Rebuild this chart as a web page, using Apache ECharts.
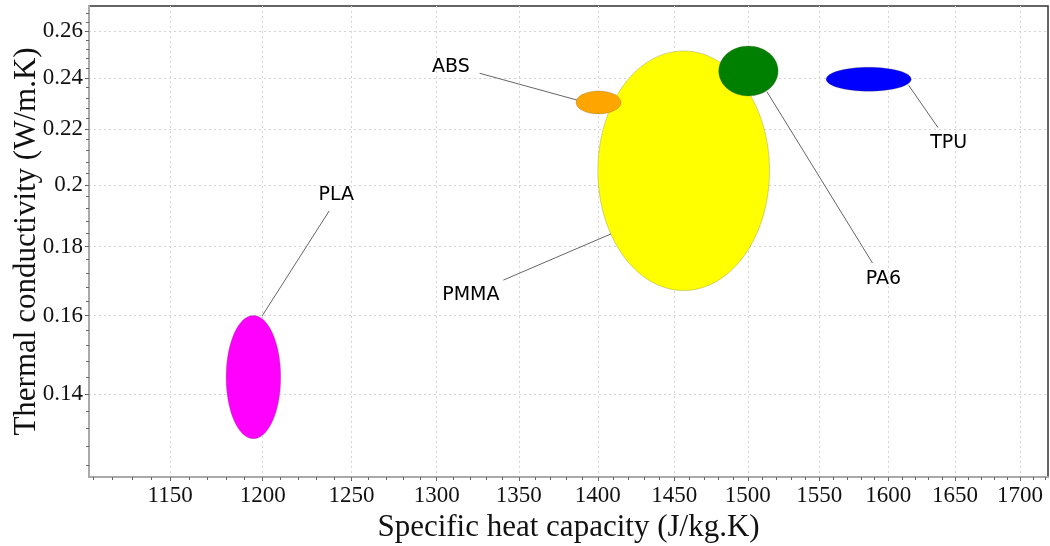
<!DOCTYPE html>
<html>
<head>
<meta charset="utf-8">
<script src="https://cdn.jsdelivr.net/npm/echarts@6/dist/echarts.min.js"></script>
<style>html,body{margin:0;padding:0;background:#fff;}#chart{width:1050px;height:546px;}</style>
</head>
<body>
<div id="chart"></div>
<script>
// ---- data ----
const materials = ['PMMA', 'PLA', 'ABS', 'PA6', 'TPU'];
const colors    = ['#ffff00', '#ff00ff', '#ffa500', '#008000', '#0000ff'];
// specific heat capacity range (J/kg.K)
const cpMin = [1400, 1180, 1386, 1480, 1555];
const cpMax = [1515, 1210, 1415, 1521, 1617];
// thermal conductivity range (W/m.K)
const kMin  = [0.167, 0.1297, 0.2257, 0.2327, 0.2346];
const kMax  = [0.2513, 0.160, 0.2347, 0.2534, 0.2444];
// annotation: label position and leader line (data units)
const labelCp   = [1320.6, 1241.3, 1308.5, 1596.5, 1645.1];
const labelK    = [0.1656, 0.1966, 0.2443, 0.1702, 0.2147];
const leadFromCp = [1408.4, 1199.7, 1386.6, 1513.2, 1615.1];
const leadFromK  = [0.1839, 0.1599, 0.2311, 0.2344, 0.2370];
const leadToCp   = [1340.5, 1237.3, 1325.9, 1588.5, 1637.0];
const leadToK    = [0.1700, 0.1913, 0.2419, 0.1750, 0.2205];
// axes
const xTicks = [1150, 1200, 1250, 1300, 1350, 1400, 1450, 1500, 1550, 1600, 1650, 1700];
const yTicks = [0.14, 0.16, 0.18, 0.2, 0.22, 0.24, 0.26];
const xRange = [1107.9, 1722];
const yRange = [0.1215, 0.2713];
const xMinorStep = 10, yMinorStep = 0.004;

// ---- build ----
const L = Math.log;
const xMinor = [], yMinor = [];
for (let v = 1110; v <= 1720; v += xMinorStep) xMinor.push(L(v));
for (let i = 0; ; i++) { const v = 0.124 + i * yMinorStep; if (v > 0.27) break; yMinor.push(L(v)); }

const seriesData = materials.map((m, i) => [
  L(cpMin[i]), L(cpMax[i]), L(kMin[i]), L(kMax[i]),
  L(labelCp[i]), L(labelK[i]), L(leadFromCp[i]), L(leadFromK[i]), L(leadToCp[i]), L(leadToK[i]), i
]);

const serif = '"Liberation Serif", "Times New Roman", serif';
const chart = echarts.init(document.getElementById('chart'), null, {renderer: 'canvas'});

const xLabelFmt = v => String(Math.round(Math.exp(v)));
const yLabelFmt = v => String(Math.round(Math.exp(v) * 100) / 100);

chart.setOption({
  animation: false,
  backgroundColor: '#fff',
  grid: { left: 89, top: 6, right: 2, bottom: 69, containLabel: false, outerBoundsMode: 'none',
          show: true, borderColor: '#333', borderWidth: 1.5, backgroundColor: 'transparent' },
  xAxis: [{
    type: 'value', min: L(xRange[0]), max: L(xRange[1]), position: 'bottom',
    name: 'Specific heat capacity (J/kg.K)', nameLocation: 'middle', nameGap: 32,
    nameTextStyle: { fontFamily: serif, fontSize: 31, color: '#111' },
    axisLine: { show: true, lineStyle: { color: '#aaa', width: 2 } },
    axisTick: { show: true, customValues: xTicks.map(L), length: 4, lineStyle: { color: '#555' } },
    axisLabel: { show: true, customValues: xTicks.map(L), formatter: xLabelFmt, fontFamily: serif, fontSize: 23, color: '#111', margin: 7 },
    splitLine: { show: true, lineStyle: { color: '#d4d4d4', type: [2, 3], width: 1 } }
  }, {
    type: 'value', min: L(xRange[0]), max: L(xRange[1]), position: 'bottom',
    axisLine: { show: false },
    axisTick: { show: true, customValues: xMinor, length: 3, lineStyle: { color: '#666' } },
    axisLabel: { show: false }, splitLine: { show: false }
  }],
  yAxis: [{
    type: 'value', min: L(yRange[0]), max: L(yRange[1]), position: 'left',
    name: 'Thermal conductivity (W/m.K)', nameLocation: 'middle', nameGap: 47, nameMoveOverlap: false,
    nameTextStyle: { fontFamily: serif, fontSize: 31, color: '#111' },
    axisLine: { show: true, lineStyle: { color: '#aaa', width: 2 } },
    axisTick: { show: true, customValues: yTicks.map(L), length: 4, lineStyle: { color: '#555' } },
    axisLabel: { show: true, customValues: yTicks.map(L), formatter: yLabelFmt, fontFamily: serif, fontSize: 23, color: '#111', margin: 6 },
    splitLine: { show: true, lineStyle: { color: '#d4d4d4', type: [2, 3], width: 1 } }
  }, {
    type: 'value', min: L(yRange[0]), max: L(yRange[1]), position: 'left',
    axisLine: { show: false },
    axisTick: { show: true, customValues: yMinor, length: 3, lineStyle: { color: '#666' } },
    axisLabel: { show: false }, splitLine: { show: false }
  }],
  series: [{
    type: 'custom',
    xAxisIndex: 0, yAxisIndex: 0,
    silent: true,
    clip: false,
    encode: { x: [0, 1], y: [2, 3] },
    data: seriesData,
    renderItem: function (params, api) {
      const p1 = api.coord([api.value(0), api.value(2)]);
      const p2 = api.coord([api.value(1), api.value(3)]);
      const lab = api.coord([api.value(4), api.value(5)]);
      const a = api.coord([api.value(6), api.value(7)]);
      const b = api.coord([api.value(8), api.value(9)]);
      const i = api.value(10);
      return {
        type: 'group',
        children: [
          { type: 'ellipse',
            shape: { cx: (p1[0] + p2[0]) / 2, cy: (p1[1] + p2[1]) / 2, rx: Math.abs(p2[0] - p1[0]) / 2, ry: Math.abs(p2[1] - p1[1]) / 2 },
            style: { fill: colors[i], stroke: 'rgba(90,90,60,0.45)', lineWidth: 0.6 } },
          { type: 'line', shape: { x1: a[0], y1: a[1], x2: b[0], y2: b[1] },
            style: { stroke: '#666', lineWidth: 1 } },
          { type: 'text',
            style: { x: lab[0], y: lab[1], text: materials[i], fill: '#000', align: 'center', verticalAlign: 'middle',
                     fontFamily: '"DejaVu Sans", Verdana, sans-serif', fontSize: 19 } }
        ]
      };
    }
  }]
});
</script>
</body>
</html>
